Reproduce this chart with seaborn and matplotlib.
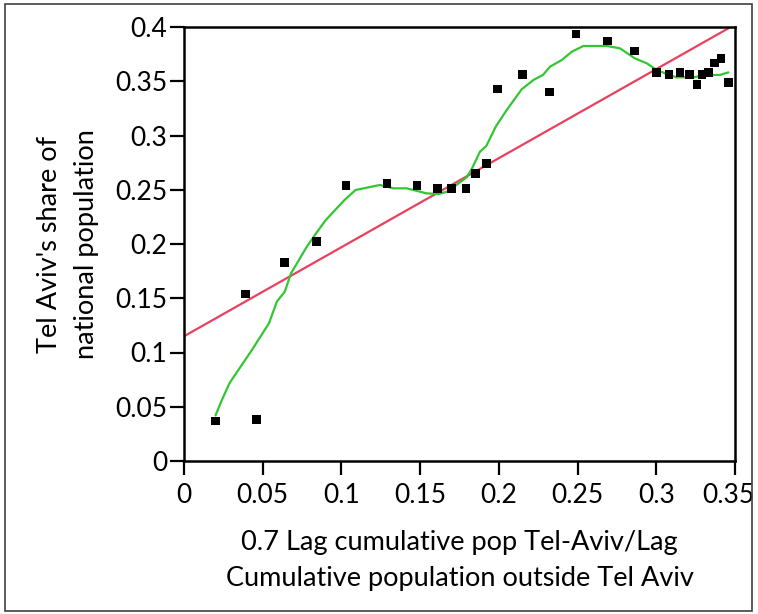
import numpy as np
import pandas as pd
import matplotlib
matplotlib.use("Agg")
import matplotlib.pyplot as plt
import seaborn as sns
from matplotlib.patches import Rectangle

# ---- data ----
pts_x = [0.020, 0.039, 0.046, 0.064, 0.084, 0.103, 0.129, 0.148, 0.161, 0.170,
         0.179, 0.185, 0.192, 0.199, 0.215, 0.232, 0.249, 0.269, 0.286, 0.300,
         0.308, 0.315, 0.321, 0.326, 0.329, 0.333, 0.337, 0.341, 0.346]
pts_y = [0.037, 0.154, 0.038, 0.183, 0.2025, 0.254, 0.256, 0.254, 0.251, 0.251,
         0.251, 0.265, 0.274, 0.343, 0.356, 0.340, 0.3935, 0.387, 0.378, 0.358,
         0.356, 0.358, 0.356, 0.347, 0.356, 0.358, 0.367, 0.371, 0.349]

smooth_x = [0.020, 0.024, 0.029, 0.036, 0.043, 0.054, 0.059, 0.064, 0.068, 0.078,
            0.084, 0.090, 0.102, 0.109, 0.1245, 0.133, 0.1415, 0.154, 0.1616,
            0.167, 0.173, 0.1796, 0.183, 0.188, 0.192, 0.198, 0.205, 0.2145,
            0.222, 0.228, 0.2325, 0.240, 0.2463, 0.2537, 0.2686, 0.277, 0.2865,
            0.294, 0.3003, 0.3066, 0.313, 0.3236, 0.331, 0.3405, 0.3458]
smooth_y = [0.042, 0.056, 0.072, 0.087, 0.102, 0.127, 0.147, 0.156, 0.173, 0.1975,
            0.210, 0.222, 0.2406, 0.2498, 0.2544, 0.2513, 0.2513, 0.2467, 0.246,
            0.2482, 0.2544, 0.2615, 0.2698, 0.2851, 0.2903, 0.3081, 0.3235, 0.3426,
            0.3512, 0.3558, 0.3634, 0.3696, 0.3772, 0.3825, 0.3825, 0.3803, 0.371,
            0.3665, 0.3604, 0.3567, 0.3536, 0.3536, 0.3558, 0.3558, 0.3582]

x_ticks = [0, 0.05, 0.1, 0.15, 0.2, 0.25, 0.3, 0.35]
x_tick_labels = ["0", "0.05", "0.1", "0.15", "0.2", "0.25", "0.3", "0.35"]
y_ticks = [0, 0.05, 0.1, 0.15, 0.2, 0.25, 0.3, 0.35, 0.4]
y_tick_labels = ["0", "0.05", "0.1", "0.15", "0.2", "0.25", "0.3", "0.35", "0.4"]

x_label = "0.7 Lag cumulative pop Tel-Aviv/Lag\nCumulative population outside Tel Aviv"
y_label = "Tel Aviv's share of\nnational population"

pts = pd.DataFrame({"x": pts_x, "y": pts_y})
smooth = pd.DataFrame({"x": smooth_x, "y": smooth_y})

sns.set_theme(style="white")
plt.rcParams["font.family"] = ["Lato", "DejaVu Sans"]

fig = plt.figure(figsize=(7.58, 6.14), dpi=100)
ax = fig.add_axes([184/758, 1-461/614, (735-184)/758, (461-27)/614])
ax.set_xlim(0, 0.35)
ax.set_ylim(0, 0.4)

sns.regplot(data=pts, x="x", y="y", ax=ax, ci=None, truncate=False, scatter=False,
            line_kws={"color": "#e8415e", "lw": 1.6})
sns.lineplot(data=smooth, x="x", y="y", ax=ax, color="#33c633", lw=1.6, sort=False)
sns.scatterplot(data=pts, x="x", y="y", ax=ax, marker="s", s=38, color="black",
                edgecolor="none", zorder=5)

ax.set_xlim(0, 0.35)
ax.set_ylim(0, 0.4)
ax.set_xticks(x_ticks)
# last x tick label is drawn separately, nudged left to stay inside the figure
ax.set_xticklabels(x_tick_labels[:-1] + [""])
ax.set_yticks(y_ticks)
ax.set_yticklabels(y_tick_labels)
ax.tick_params(axis="both", direction="out", length=10, width=1.6, labelsize=19,
               colors="black", left=True, bottom=True)
ax.tick_params(axis="y", pad=2)
ax.tick_params(axis="x", pad=6)
for s in ax.spines.values():
    s.set_color("black")
    s.set_linewidth(1.8)

ax.annotate(x_tick_labels[-1], xy=(x_ticks[-1], 0), xycoords=("data", "axes fraction"),
            xytext=(-5, -16), textcoords="offset points", ha="center", va="top",
            fontsize=19, color="black", annotation_clip=False)

ax.set_xlabel(x_label, fontsize=19.5, linespacing=1.55, labelpad=16, color="black")
ax.set_ylabel(y_label, fontsize=19.5, linespacing=1.6, labelpad=12, color="black")

fig.patches.append(Rectangle((5/758, 3/614), 747/758, 607/614, transform=fig.transFigure,
                             fill=False, edgecolor="#404040", lw=1.2))

fig.savefig("out.png", dpi=100, facecolor="white")
